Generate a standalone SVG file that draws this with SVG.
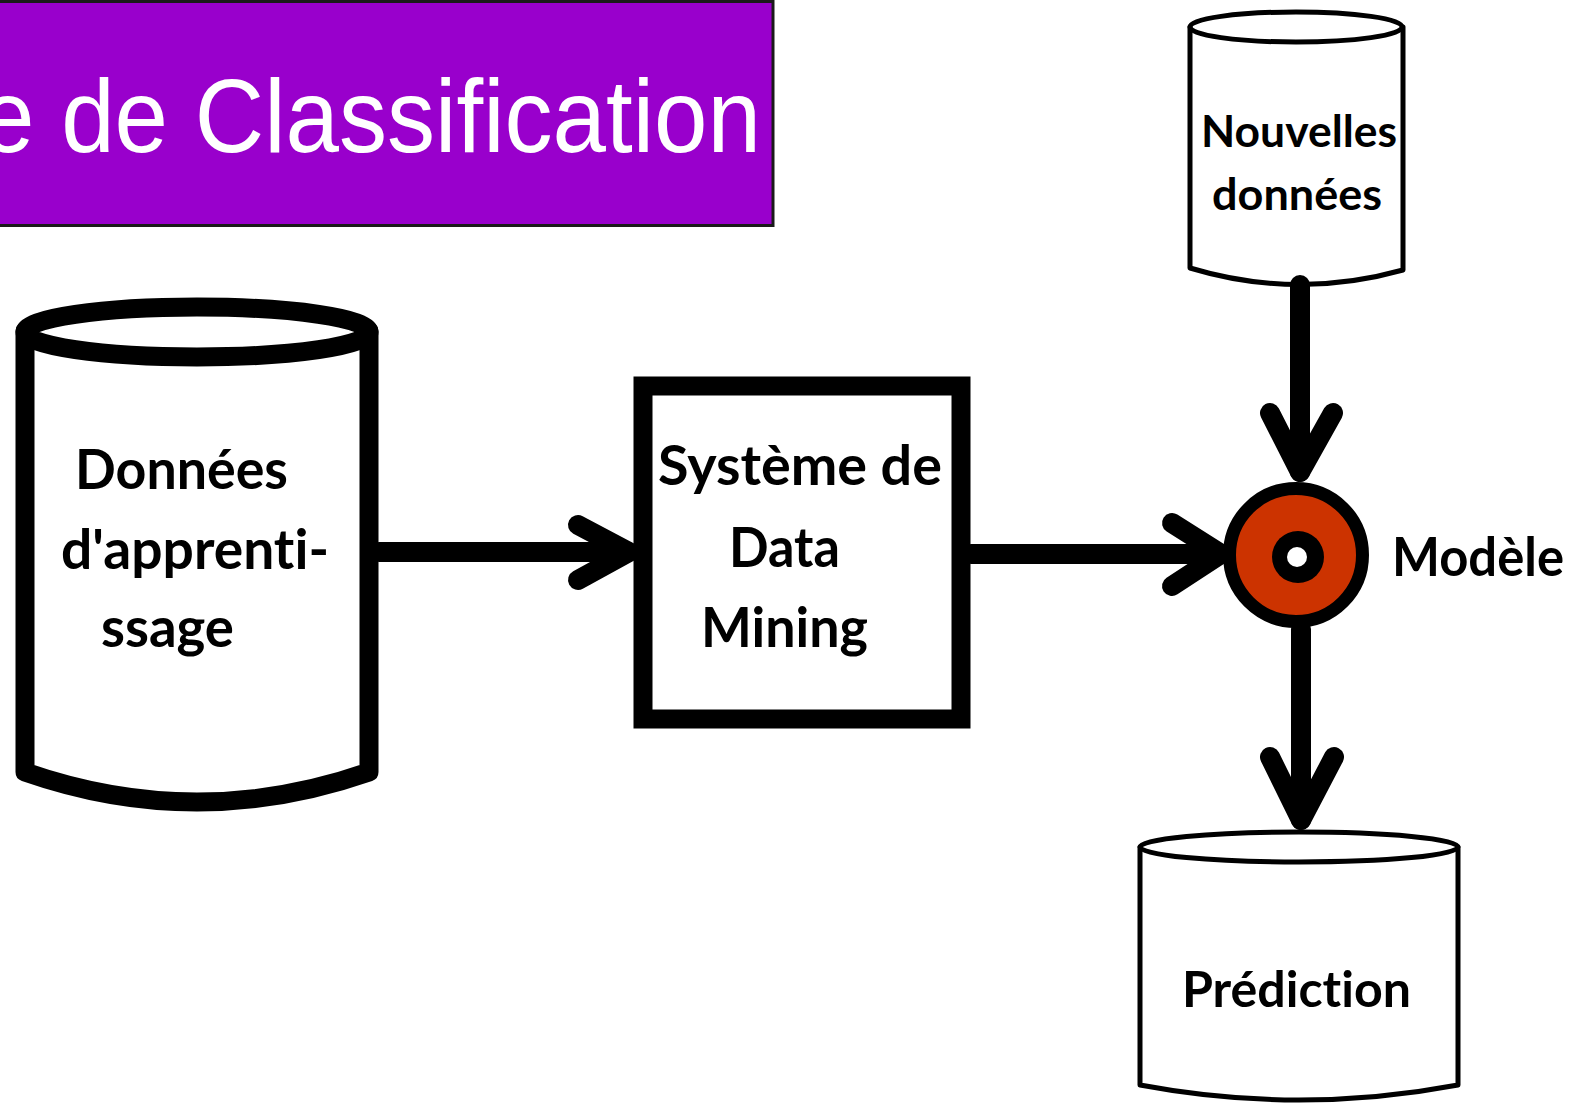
<svg xmlns="http://www.w3.org/2000/svg" width="1579" height="1105" viewBox="0 0 1579 1105">
<style>
.bg{fill:#ffffff}
.thick{fill:none;stroke:#000;stroke-width:19;stroke-linejoin:round;stroke-linecap:round}
.thin{fill:none;stroke:#000;stroke-width:5;stroke-linejoin:round;stroke-linecap:round}
.white{fill:#fff}
.lbl{font-family:Lato,"Open Sans","Liberation Sans",sans-serif;font-weight:bold;fill:#000;font-variant-ligatures:none;font-feature-settings:"liga" 0,"clig" 0}
.title{font-family:"Liberation Sans",Arial,sans-serif;fill:#fff}
.conn{fill:none;stroke:#000;stroke-width:20;stroke-linecap:round;stroke-linejoin:round}
</style>
<rect class="bg" x="0" y="0" width="1579" height="1105"/>

<g id="title">
<rect x="-4" y="1.5" width="777" height="224" fill="#9900CC" stroke="#1a1a1a" stroke-width="3"/>
<text class="title" x="-19" y="152" font-size="104" textLength="780" lengthAdjust="spacingAndGlyphs">e de Classification</text>
</g>

<g id="donnees-apprentissage">
<path class="white" d="M25,331 V772 Q197,832 369,772 V331 Z"/>
<path class="thick" d="M25,331 V772 Q197,832 369,772 V331"/>
<ellipse class="thick" cx="197" cy="332" rx="172" ry="25" fill="#fff"/>
<text class="lbl" x="75" y="489" font-size="55" textLength="213" lengthAdjust="spacingAndGlyphs">Données</text>
<text class="lbl" x="61" y="569" font-size="55" textLength="268" lengthAdjust="spacingAndGlyphs">d'apprenti-</text>
<text class="lbl" x="101" y="647" font-size="55" textLength="133" lengthAdjust="spacingAndGlyphs">ssage</text>
</g>

<g id="systeme-data-mining">
<rect x="643" y="386" width="318" height="333" fill="#fff" stroke="#000" stroke-width="19"/>
<text class="lbl" x="658" y="485" font-size="55" textLength="284" lengthAdjust="spacingAndGlyphs">Système de</text>
<text class="lbl" x="729" y="567" font-size="55" textLength="111" lengthAdjust="spacingAndGlyphs">Data</text>
<text class="lbl" x="701" y="647" font-size="55" textLength="167" lengthAdjust="spacingAndGlyphs">Mining</text>
</g>

<g id="nouvelles-donnees">
<path class="white" d="M1190,27 V268 Q1296,300 1403,270 V27 Z"/>
<path class="thin" d="M1190,27 V268 Q1296,300 1403,270 V27"/>
<ellipse class="thin" cx="1296" cy="27" rx="106" ry="15" fill="#fff"/>
<text class="lbl" x="1201" y="147" font-size="44" textLength="196" lengthAdjust="spacingAndGlyphs">Nouvelles</text>
<text class="lbl" x="1212" y="210" font-size="44" textLength="170" lengthAdjust="spacingAndGlyphs">données</text>
</g>

<g id="prediction">
<path class="white" d="M1140,847 V1085 Q1299,1115 1458,1085 V847 Z"/>
<path class="thin" d="M1140,847 V1085 Q1299,1115 1458,1085 V847"/>
<ellipse class="thin" cx="1299" cy="847" rx="159" ry="15" fill="#fff"/>
<text class="lbl" x="1182" y="1007" font-size="50" textLength="229" lengthAdjust="spacingAndGlyphs">Prédiction</text>
</g>

<g id="modele">
<circle cx="1296" cy="555" r="66.5" fill="#CC3300" stroke="#000" stroke-width="13"/>
<circle cx="1298" cy="557" r="26" fill="#000"/>
<circle cx="1297" cy="557" r="10" fill="#fff"/>
<text class="lbl" x="1392" y="576" font-size="53" textLength="172" lengthAdjust="spacingAndGlyphs">Modèle</text>
</g>

<g id="connectors">
<line class="conn" x1="379" y1="552" x2="628" y2="552"/>
<polyline class="conn" points="578,525 629,552 578,580"/>
<line class="conn" x1="971" y1="554" x2="1220" y2="554"/>
<polyline class="conn" points="1172,523 1221,554 1172,586"/>
<line class="conn" x1="1300" y1="285" x2="1300" y2="472"/>
<polyline class="conn" points="1270,413 1300,472 1333,413"/>
<line class="conn" x1="1301" y1="629" x2="1301" y2="820"/>
<polyline class="conn" points="1270,757 1301,820 1334,757"/>
</g>
</svg>
